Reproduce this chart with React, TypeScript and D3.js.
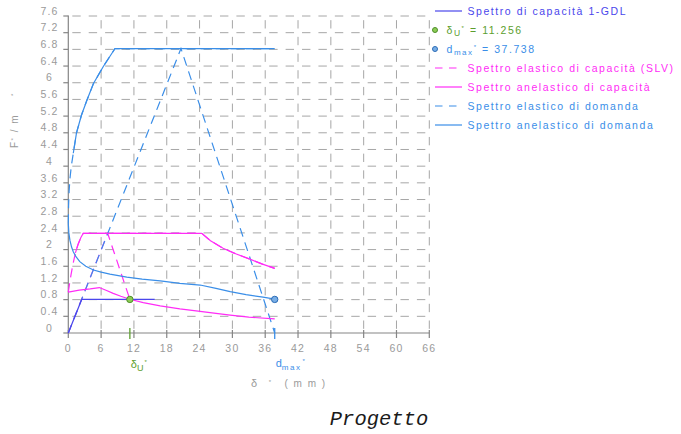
import React from "react";
import * as d3 from "d3";

const W = 681;
const H = 434;

const xTicks = [0, 6, 12, 18, 24, 30, 36, 42, 48, 54, 60, 66];
const yTicks = [0, 0.4, 0.8, 1.2, 1.6, 2, 2.4, 2.8, 3.2, 3.6, 4, 4.4, 4.8, 5.2, 5.6, 6, 6.4, 6.8, 7.2, 7.6];
const yTickLabels = ["0", "0.4", "0.8", "1.2", "1.6", "2", "2.4", "2.8", "3.2", "3.6", "4", "4.4", "4.8", "5.2", "5.6", "6", "6.4", "6.8", "7.2", "7.6"];

// Result values of the N2 check
const deltaU = 11.256;
const dMax = 37.738;
const fy = 0.805;

// Bilinear capacity of the equivalent SDOF system
const capacity1GDL: [number, number][] = [[0, 0], [2.45, 0.805], [15.8, 0.805]];

// Elastic capacity spectrum (SLV)
const elasticCapacity: [number, number][] = [
  [0, 0.98], [0.25, 1.2], [0.5, 1.4], [0.9, 1.68], [1.3, 1.92], [1.8, 2.13], [2.3, 2.29], [2.74, 2.39],
  [24.4, 2.39], [26, 2.21], [28.3, 2.03], [30.6, 1.9], [33.2, 1.77], [35.5, 1.65], [37.738, 1.55],
];
const elasticCapacityRay: [number, number][] = [[0, 0], [7.2, 2.39], [11.256, 0.805]];

// Inelastic capacity spectrum
const inelasticCapacityUpper: [number, number][] = [
  [1.3, 1.92], [1.8, 2.13], [2.3, 2.29], [2.74, 2.39],
  [24.4, 2.39], [26, 2.21], [28.3, 2.03], [30.6, 1.9], [33.2, 1.77], [35.5, 1.65], [37.738, 1.55],
];
const inelasticCapacityLower: [number, number][] = [
  [0, 0.98], [2, 1.03], [4, 1.06], [5.67, 1.09], [7, 1.02], [8.2, 0.95], [9.6, 0.88], [11.256, 0.81],
  [13.7, 0.73], [16.8, 0.65], [20.4, 0.58], [24.1, 0.52], [27, 0.47], [29.6, 0.43], [33, 0.38], [37.738, 0.34],
];

// Elastic demand spectrum
const elasticDemand: [number, number][] = [
  [0, 2.63], [0.05, 3.05], [0.15, 3.4], [0.3, 3.7], [0.55, 4.0], [0.91, 4.31], [1.5, 4.8], [2.4, 5.22],
  [3.4, 5.58], [4.6, 5.98], [6.4, 6.39], [8.54, 6.82], [37.738, 6.82],
];
const elasticDemandRay: [number, number][] = [[0, 0], [20.6, 6.82], [37.738, 0]];

// Inelastic demand spectrum
const inelasticDemandUpper: [number, number][] = [
  [0.91, 4.31], [1.5, 4.8], [2.4, 5.22], [3.4, 5.58], [4.6, 5.98], [6.4, 6.39], [8.54, 6.82], [37.738, 6.82],
];
const inelasticDemandLower: [number, number][] = [
  [0, 2.63], [0.1, 2.4], [0.3, 2.22], [0.6, 2.06], [0.91, 1.95], [1.4, 1.83], [2.1, 1.71], [3.2, 1.6],
  [4.6, 1.51], [6, 1.46], [7.6, 1.41], [10.7, 1.34], [13.5, 1.29], [16.8, 1.25], [20.4, 1.19], [24.1, 1.15],
  [27, 1.07], [29.6, 0.99], [32.5, 0.92], [35.6, 0.86], [37.738, 0.81],
];

const C_GDL = "#4a46ec";
const C_MAG = "#ff2cf6";
const C_BLUE = "#3a8ee8";
const C_GREEN = "#5c9e2e";
const C_GRID = "#a6a6a6";
const C_AXIS = "#858585";
const C_TEXT = "#9a9a9a";

const FONT = "'Liberation Sans', Arial, sans-serif";

export default function App() {
  const x = d3.scaleLinear().domain([0, 66]).range([68.3, 429.3]);
  const y = d3.scaleLinear().domain([0, 7.6]).range([333, 16]);
  const line = d3.line<[number, number]>().x((d) => x(d[0])).y((d) => y(d[1]));

  const x0 = x(0), x1 = x(66), y0 = y(0), y1 = y(7.6);
  const hx = (x(6) - x(0)) / 2;
  const hy = (y(0) - y(0.4)) / 2;

  const legendX = 435;
  const legendRows = [11, 30, 49, 68, 87, 106, 125];

  return (
    <svg width={W} height={H} style={{ position: "absolute", left: 0, top: 0, background: "#fff" }} fontFamily={FONT}>
      {/* grid */}
      <g stroke={C_GRID} strokeWidth={1} fill="none">
        {yTicks.filter((v) => v > 0).map((v) => (
          <line key={"h" + v} x1={x0} x2={x1} y1={y(v)} y2={y(v)}
            strokeDasharray={`${hx - 8} 8`} strokeDashoffset={hx - 8 + 4} />
        ))}
        {xTicks.filter((v) => v > 0).map((v) => (
          <line key={"v" + v} x1={x(v)} x2={x(v)} y1={y0} y2={y1}
            strokeDasharray={`${hy} ${hy}`} strokeDashoffset={hy + hy / 2} />
        ))}
      </g>

      {/* axes */}
      <g stroke={C_AXIS} strokeWidth={1.2}>
        <line x1={x0} x2={x0} y1={y0} y2={y1 - 0.5} />
        <line x1={x0} x2={x1} y1={y0} y2={y0} />
        {yTicks.map((v) => (
          <line key={"yt" + v} x1={x0 - 5} x2={x0} y1={y(v)} y2={y(v)} />
        ))}
        {xTicks.map((v) => (
          <line key={"xt" + v} x1={x(v)} x2={x(v)} y1={y0 - 3} y2={y0 + 5} />
        ))}
      </g>

      {/* tick labels */}
      <g fill={C_TEXT} fontSize={10.5} letterSpacing={1.2} textAnchor="middle">
        {yTicks.map((v, i) => (
          <text key={"yl" + v} x={49.5} y={y(v) - 5} dy="0.35em">{yTickLabels[i]}</text>
        ))}
        {xTicks.map((v) => (
          <text key={"xl" + v} x={x(v)} y={351.5}>{v}</text>
        ))}
      </g>

      {/* axis titles */}
      <text transform="translate(18,148) rotate(-90)" fill={C_TEXT} fontSize={10} letterSpacing={1.5} xmlSpace="preserve">
        F<tspan fontSize={6} dy={-3}>*</tspan><tspan dy={3}> / m</tspan><tspan dx={18} fontSize={6} dy={-3}>*</tspan>
      </text>
      <text x={251} y={387} fill={C_TEXT} fontSize={11} letterSpacing={1.5} xmlSpace="preserve">
        δ<tspan dx={10} fontSize={6} dy={-3}>*</tspan><tspan dx={12} dy={3} fontSize={10}>( m m )</tspan>
      </text>

      {/* dashed elastic spectra */}
      <g fill="none" strokeWidth={1.2} strokeDasharray="9 6">
        <path d={line(elasticCapacity)!} stroke={C_MAG} />
        <path d={line(elasticCapacityRay)!} stroke={C_MAG} />
        <path d={line(elasticDemand)!} stroke={C_BLUE} />
        <path d={line(elasticDemandRay)!} stroke={C_BLUE} />
      </g>

      {/* inelastic spectra */}
      <g fill="none" strokeWidth={1.2}>
        <path d={line(inelasticCapacityUpper)!} stroke={C_MAG} />
        <path d={line(inelasticCapacityLower)!} stroke={C_MAG} />
        <path d={line(inelasticDemandUpper)!} stroke={C_BLUE} />
        <path d={line(inelasticDemandLower)!} stroke={C_BLUE} />
        <path d={line(capacity1GDL)!} stroke={C_GDL} />
      </g>

      {/* markers on the x axis */}
      <line x1={x(deltaU)} x2={x(deltaU)} y1={y0 - 5} y2={y0 + 6} stroke={C_GREEN} strokeWidth={1.3} />
      <line x1={x(dMax)} x2={x(dMax)} y1={y0 - 5} y2={y0 + 6} stroke={C_BLUE} strokeWidth={1.3} />

      {/* result points */}
      <circle cx={x(deltaU)} cy={y(fy)} r={3.2} fill="#8ccc55" stroke="#4e8e2a" strokeWidth={1} />
      <circle cx={x(dMax)} cy={y(fy)} r={3.2} fill="#78aee6" stroke="#2c6cb6" strokeWidth={1} />

      {/* labels under the axis */}
      <text x={x(deltaU) + 1} y={368} fill={C_GREEN} fontSize={11}>
        δ<tspan fontSize={9} dy={3}>U</tspan><tspan fontSize={6} dy={-7} dx={1}>*</tspan>
      </text>
      <text x={x(dMax) + 1} y={367} fill={C_BLUE} fontSize={11}>
        d<tspan fontSize={8} dy={3} letterSpacing={1.5}>max</tspan><tspan fontSize={6} dy={-7} dx={1}>*</tspan>
      </text>

      {/* legend */}
      <g fontSize={10.5} letterSpacing={1.55}>
        <line x1={legendX} x2={legendX + 27} y1={legendRows[0]} y2={legendRows[0]} stroke={C_GDL} strokeWidth={1.2} />
        <text x={467.5} y={legendRows[0]} dy="0.35em" fill={C_GDL}>Spettro di capacità 1-GDL</text>

        <circle cx={legendX} cy={legendRows[1]} r={2.5} fill="#8ccc55" stroke="#4e8e2a" strokeWidth={1} />
        <text x={446.5} y={legendRows[1]} dy="0.35em" fill={C_GREEN}>
          δ<tspan fontSize={8.5} dy={2.5}>U</tspan><tspan fontSize={6} dy={-6}>*</tspan><tspan dy={3.5}> = {deltaU.toFixed(3)}</tspan>
        </text>

        <circle cx={legendX} cy={legendRows[2]} r={2.5} fill="#78aee6" stroke="#2c6cb6" strokeWidth={1} />
        <text x={446.5} y={legendRows[2]} dy="0.35em" fill={C_BLUE}>
          d<tspan fontSize={8} dy={2.5}>max</tspan><tspan fontSize={6} dy={-6}>*</tspan><tspan dy={3.5}> = {dMax.toFixed(3)}</tspan>
        </text>

        <line x1={legendX} x2={legendX + 23} y1={legendRows[3]} y2={legendRows[3]} stroke={C_MAG} strokeWidth={1.2} strokeDasharray="7.5 6.5" />
        <text x={467.5} y={legendRows[3]} dy="0.35em" fill={C_MAG}>Spettro elastico di capacità (SLV)</text>

        <line x1={legendX} x2={legendX + 27} y1={legendRows[4]} y2={legendRows[4]} stroke={C_MAG} strokeWidth={1.2} />
        <text x={467.5} y={legendRows[4]} dy="0.35em" fill={C_MAG}>Spettro anelastico di capacità</text>

        <line x1={legendX} x2={legendX + 23} y1={legendRows[5]} y2={legendRows[5]} stroke={C_BLUE} strokeWidth={1.2} strokeDasharray="7.5 6.5" />
        <text x={467.5} y={legendRows[5]} dy="0.35em" fill={C_BLUE}>Spettro elastico di domanda</text>

        <line x1={legendX} x2={legendX + 27} y1={legendRows[6]} y2={legendRows[6]} stroke={C_BLUE} strokeWidth={1.2} />
        <text x={467.5} y={legendRows[6]} dy="0.35em" fill={C_BLUE}>Spettro anelastico di domanda</text>
      </g>

      {/* caption */}
      <text x={379} y={425} textAnchor="middle" fontFamily="'Liberation Mono', 'Courier New', monospace" fontStyle="italic" fontSize={20.5} fill="#1a1a1a">
        Progetto
      </text>
    </svg>
  );
}
